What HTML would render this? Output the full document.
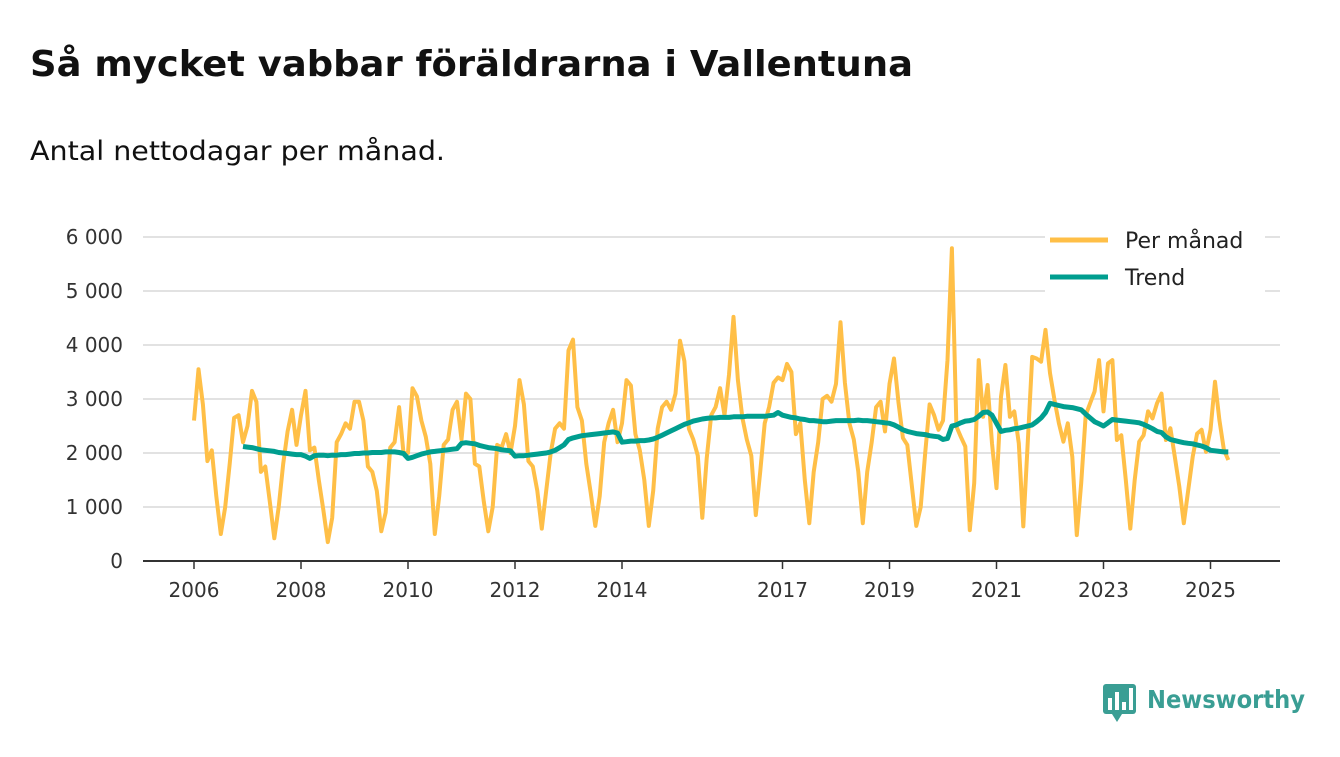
<!DOCTYPE html>
<html><head><meta charset="utf-8"><style>
body{margin:0;background:#fff;width:1340px;height:753px;overflow:hidden;font-family:"DejaVu Sans","Liberation Sans",sans-serif;}
</style></head><body>
<svg width="1340" height="753" viewBox="0 0 1340 753">
<text x="30" y="76" font-size="36" font-weight="bold" fill="#111" textLength="883" lengthAdjust="spacingAndGlyphs">Så mycket vabbar föräldrarna i Vallentuna</text>
<text x="30" y="160" font-size="27" fill="#111" textLength="415" lengthAdjust="spacingAndGlyphs">Antal nettodagar per månad.</text>
<g id="grid"></g>
<g id="yt"></g>
<g id="xt"></g>
<line x1="143" x2="1280" y1="561" y2="561" stroke="#333" stroke-width="2"/>
<path id="pm" fill="none" stroke="#ffbf47" stroke-width="4" stroke-linejoin="round"/>
<path id="tr" fill="none" stroke="#009e8f" stroke-width="5" stroke-linejoin="round"/>
<g>
<rect x="1045" y="222" width="220" height="70" fill="#fff"/>
<line x1="1050" x2="1108" y1="240" y2="240" stroke="#ffbf47" stroke-width="5"/>
<text x="1125" y="248" font-size="22" fill="#222">Per månad</text>
<line x1="1050" x2="1108" y1="277" y2="277" stroke="#009e8f" stroke-width="5"/>
<text x="1125" y="285" font-size="22" fill="#222">Trend</text>
</g>
<g>
<rect x="1103" y="684" width="33" height="30" rx="3" fill="#3a9e94"/>
<polygon points="1112,714 1122,714 1117,722" fill="#3a9e94"/>
<rect x="1108" y="698" width="4" height="12" fill="#fff"/>
<rect x="1115" y="692" width="4" height="18" fill="#fff"/>
<rect x="1122" y="702" width="4" height="8" fill="#fff"/>
<rect x="1129" y="688" width="4" height="22" fill="#fff"/>
<text x="1147" y="708" font-size="25" font-weight="bold" fill="#3a9e94" textLength="158" lengthAdjust="spacingAndGlyphs">Newsworthy</text>
</g>
</svg>
<script>
const yTicks=[0,1000,2000,3000,4000,5000,6000];
const yTickLabels=["0","1 000","2 000","3 000","4 000","5 000","6 000"];
const xTickYears=[2006,2008,2010,2012,2014,2017,2019,2021,2023,2025];
const startYear=2006;
const perManad=[2600,3550,2900,1850,2050,1200,500,1000,1800,2650,2700,2200,
2500,3150,2950,1650,1750,1100,420,1000,1800,2400,2800,2150,
2700,3150,2050,2100,1500,950,350,800,2200,2350,2550,2450,
2950,2950,2600,1750,1650,1300,550,900,2100,2200,2850,2000,
2000,3200,3050,2600,2300,1800,500,1200,2150,2250,2800,2950,
2250,3100,3000,1800,1750,1100,550,1000,2150,2100,2350,2000,
2500,3350,2900,1850,1750,1300,600,1300,2000,2450,2550,2450,
3900,4100,2850,2600,1800,1250,650,1200,2200,2550,2800,2200,
2550,3350,3250,2350,2050,1500,650,1300,2450,2850,2950,2800,
3100,4080,3700,2450,2250,1950,800,1900,2700,2850,3200,2700,
3450,4520,3350,2650,2250,1950,850,1650,2550,2850,3300,3400,
3350,3650,3500,2350,2550,1500,700,1650,2200,3000,3060,2950,
3280,4420,3300,2550,2250,1650,700,1650,2200,2850,2950,2400,
3280,3750,2950,2280,2150,1400,650,1000,2000,2900,2700,2430,
2600,3720,5790,2490,2300,2120,570,1440,3720,2670,3260,2180,
1350,3040,3630,2670,2770,2180,640,2180,3780,3750,3690,4280,
3480,2980,2550,2210,2550,1930,480,1440,2700,2920,3140,3720,
2770,3660,3720,2240,2330,1500,600,1500,2210,2330,2770,2640,
2920,3100,2240,2460,1930,1380,700,1310,1930,2360,2430,2020,
2430,3320,2610,2060,1870];
const trendStart=11;
const trend=[2120,
2110,2100,2080,2060,2050,2040,2030,2010,2000,1990,1980,1970,
1970,1940,1900,1950,1960,1960,1950,1960,1960,1970,1970,1980,
1990,1990,2000,2000,2010,2010,2010,2020,2020,2020,2010,1990,
1900,1920,1950,1980,2000,2020,2030,2040,2050,2060,2070,2080,
2180,2190,2180,2170,2140,2120,2100,2090,2080,2060,2050,2040,
1940,1950,1950,1960,1970,1980,1990,2000,2020,2050,2100,2150,
2250,2280,2300,2320,2330,2340,2350,2360,2370,2380,2390,2370,
2200,2210,2220,2220,2230,2230,2240,2260,2290,2330,2370,2410,
2450,2490,2530,2560,2590,2610,2630,2640,2650,2650,2660,2660,
2660,2670,2670,2670,2680,2680,2680,2680,2680,2690,2700,2750,
2700,2680,2660,2650,2630,2620,2600,2600,2590,2580,2580,2590,
2600,2600,2600,2600,2600,2610,2600,2600,2590,2580,2570,2560,
2550,2520,2480,2430,2400,2380,2360,2350,2340,2320,2310,2300,
2250,2270,2500,2520,2560,2590,2600,2620,2680,2750,2760,2700,
2550,2400,2420,2430,2450,2460,2480,2500,2520,2580,2650,2750,
2920,2900,2880,2860,2850,2840,2820,2800,2720,2650,2580,2540,
2500,2560,2620,2610,2600,2590,2580,2570,2560,2530,2490,2450,
2400,2380,2300,2250,2230,2210,2190,2180,2170,2150,2130,2100,
2050,2040,2030,2020,2020];
const NS="http://www.w3.org/2000/svg";
function xYear(y){return 194+(y-2006)*53.5;}
function xMonth(i){return xYear(startYear+i/12);}
function yVal(v){return 561-v*0.054;}
const grid=document.getElementById('grid'),yt=document.getElementById('yt'),xt=document.getElementById('xt');
yTicks.forEach((v,i)=>{
 if(v>0){const l=document.createElementNS(NS,'line');
 l.setAttribute('x1',143);l.setAttribute('x2',1280);l.setAttribute('y1',yVal(v));l.setAttribute('y2',yVal(v));
 l.setAttribute('stroke','#d9d9d9');l.setAttribute('stroke-width','1.5');
 
 
 grid.appendChild(l);}
 const t=document.createElementNS(NS,'text');
 t.setAttribute('x',123);t.setAttribute('y',yVal(v)+7);t.setAttribute('text-anchor','end');
 t.setAttribute('font-size','20');t.setAttribute('fill','#333');t.textContent=yTickLabels[i];
 
 
 yt.appendChild(t);
});
xTickYears.forEach(y=>{
 const x=xYear(y);
 const l=document.createElementNS(NS,'line');
 l.setAttribute('x1',x);l.setAttribute('x2',x);l.setAttribute('y1',561);l.setAttribute('y2',569);
 l.setAttribute('stroke','#333');l.setAttribute('stroke-width','1.5');
 
 
 xt.appendChild(l);
 const t=document.createElementNS(NS,'text');
 t.setAttribute('x',x);t.setAttribute('y',597);t.setAttribute('text-anchor','middle');
 t.setAttribute('font-size','20');t.setAttribute('fill','#333');t.textContent=y;
 
 
 xt.appendChild(t);
});
document.getElementById('pm').setAttribute('d',perManad.map((v,i)=>(i?'L':'M')+xMonth(i).toFixed(1)+','+yVal(v).toFixed(1)).join(''));
document.getElementById('tr').setAttribute('d',trend.map((v,i)=>(i?'L':'M')+xMonth(i+trendStart).toFixed(1)+','+yVal(v).toFixed(1)).join(''));
</script>
</body></html>
